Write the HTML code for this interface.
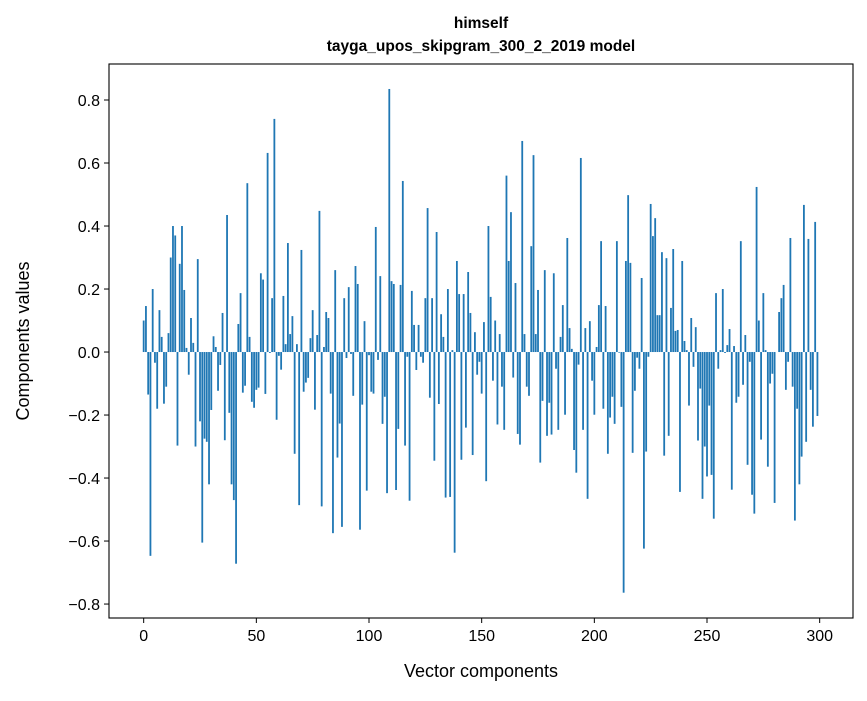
<!DOCTYPE html>
<html><head><meta charset="utf-8"><style>
body{margin:0;background:#fff;font-family:"Liberation Sans","DejaVu Sans",sans-serif;}
svg text{font-family:"Liberation Sans","DejaVu Sans",sans-serif;}
</style></head><body>
<svg id="chart" width="867" height="696" xmlns="http://www.w3.org/2000/svg">
<rect width="867" height="696" fill="#fff"/>
<text x="481" y="28" font-size="15.5" font-weight="bold" text-anchor="middle">himself</text>
<text x="481" y="51" font-size="15.5" font-weight="bold" text-anchor="middle">tayga_upos_skipgram_300_2_2019 model</text>
<g id="bars"></g>
<rect x="109" y="64" width="744" height="554" fill="none" stroke="#000" stroke-width="1.1"/>
<g id="xticks"></g>
<g id="yticks"></g>
<text x="481" y="677" font-size="18" text-anchor="middle">Vector components</text>
<text x="0" y="0" font-size="18" text-anchor="middle" transform="translate(29,341) rotate(-90)">Components values</text>
</svg>
<script>
const values = [0.10,0.146,-0.135,-0.647,0.20,-0.034,-0.18,0.133,0.048,-0.164,
-0.11,0.06,0.30,0.40,0.37,-0.297,0.28,0.40,0.197,0.013,
-0.072,0.108,0.029,-0.30,0.295,-0.22,-0.605,-0.275,-0.285,-0.42,
-0.184,0.05,0.016,-0.123,-0.041,0.124,-0.28,0.435,-0.193,-0.42,
-0.47,-0.672,0.089,0.187,-0.129,-0.107,0.536,0.048,-0.158,-0.177,
-0.12,-0.113,0.25,0.23,-0.133,0.632,-0.003,0.171,0.74,-0.215,
-0.012,-0.056,0.178,0.025,0.346,0.057,0.114,-0.323,0.025,-0.486,
0.324,-0.126,-0.097,-0.082,0.044,0.133,-0.183,0.054,0.448,-0.49,
0.016,0.127,0.108,-0.132,-0.575,0.26,-0.335,-0.227,-0.555,0.171,
-0.019,0.206,-0.006,-0.139,0.273,0.216,-0.564,-0.167,0.098,-0.44,
-0.01,-0.126,-0.132,0.397,-0.025,0.241,-0.228,-0.142,-0.448,0.835,
0.225,0.216,-0.438,-0.244,0.213,0.543,-0.297,-0.015,-0.472,0.194,
0.086,-0.057,0.086,-0.015,-0.034,0.171,0.457,-0.145,0.171,-0.345,
0.381,-0.165,0.12,0.048,-0.462,0.2,-0.46,0.006,-0.637,0.289,
0.184,-0.342,0.184,-0.24,0.254,0.124,-0.327,0.063,-0.072,-0.031,
-0.132,0.095,-0.41,0.40,0.175,-0.091,0.10,-0.23,0.057,-0.11,
-0.247,0.56,0.289,0.444,-0.081,0.219,-0.26,-0.294,0.67,0.057,
-0.11,-0.139,0.336,0.625,0.057,0.197,-0.351,-0.155,0.26,-0.266,
-0.161,-0.262,0.25,-0.053,-0.247,0.048,0.149,-0.199,0.362,0.076,
0.01,-0.311,-0.383,-0.04,0.616,-0.247,0.076,-0.466,0.098,-0.091,
-0.199,0.016,0.149,0.352,-0.18,0.146,-0.323,-0.208,-0.142,-0.228,
0.352,-0.002,-0.174,-0.764,0.289,0.498,0.283,-0.32,-0.123,-0.018,
-0.053,0.235,-0.624,-0.316,-0.015,0.47,0.368,0.425,0.117,0.117,
0.317,-0.329,0.298,-0.266,0.14,0.327,0.067,0.07,-0.444,0.289,
0.035,0.006,-0.17,0.108,-0.047,0.079,-0.281,-0.116,-0.466,-0.30,
-0.395,-0.17,-0.39,-0.529,0.187,-0.053,0.006,0.20,-0.003,0.022,
0.073,-0.437,0.019,-0.161,-0.142,0.352,-0.104,0.054,-0.358,-0.031,
-0.453,-0.513,0.524,0.10,-0.278,0.187,0.006,-0.364,-0.10,-0.069,
-0.479,0.0,0.127,0.171,0.213,-0.12,-0.031,0.362,-0.11,-0.535,
-0.18,-0.42,-0.332,0.467,-0.285,0.359,-0.12,-0.237,0.413,-0.203];
const xTickValues = [0,50,100,150,200,250,300];
const yTickValues = [-0.8,-0.6,-0.4,-0.2,0.0,0.2,0.4,0.6,0.8];
const yTickLabels = ["\u22120.8","\u22120.6","\u22120.4","\u22120.2","0.0","0.2","0.4","0.6","0.8"];

const NS="http://www.w3.org/2000/svg";
const L=109,R=853,T=64,B=618;
const xmin=-15.39,xmax=314.79,ymin=-0.8443,ymax=0.9143;
const xs=v=>L+(v-xmin)/(xmax-xmin)*(R-L);
const ys=v=>B-(v-ymin)/(ymax-ymin)*(B-T);
const bars=document.getElementById('bars');
values.forEach((v,i)=>{
  const r=document.createElementNS(NS,'rect');
  const x0=xs(i-0.4),x1=xs(i+0.4);
  const y0=ys(Math.max(v,0)),y1=ys(Math.min(v,0));
  r.setAttribute('x',x0);r.setAttribute('width',x1-x0);
  r.setAttribute('y',y0);r.setAttribute('height',Math.max(y1-y0,0));
  r.setAttribute('fill','#1f77b4');
  
  
  bars.appendChild(r);
});
const xt=document.getElementById('xticks');
xTickValues.forEach(t=>{
  const x=xs(t);
  const l=document.createElementNS(NS,'line');
  l.setAttribute('x1',x);l.setAttribute('x2',x);l.setAttribute('y1',B);l.setAttribute('y2',B+5);
  l.setAttribute('stroke','#000');
  
  
  xt.appendChild(l);
  const tx=document.createElementNS(NS,'text');
  tx.setAttribute('x',x);tx.setAttribute('y',B+23);tx.setAttribute('font-size','16');tx.setAttribute('text-anchor','middle');
  tx.textContent=String(t);
  
  
  xt.appendChild(tx);
});
const yt=document.getElementById('yticks');
yTickValues.forEach((t,i)=>{
  const y=ys(t);
  const l=document.createElementNS(NS,'line');
  l.setAttribute('x1',L-5);l.setAttribute('x2',L);l.setAttribute('y1',y);l.setAttribute('y2',y);
  l.setAttribute('stroke','#000');
  
  
  yt.appendChild(l);
  const tx=document.createElementNS(NS,'text');
  tx.setAttribute('x',L-9);tx.setAttribute('y',y+6);tx.setAttribute('font-size','16');tx.setAttribute('text-anchor','end');
  tx.textContent=yTickLabels[i];
  
  
  yt.appendChild(tx);
});
</script>
</body></html>
